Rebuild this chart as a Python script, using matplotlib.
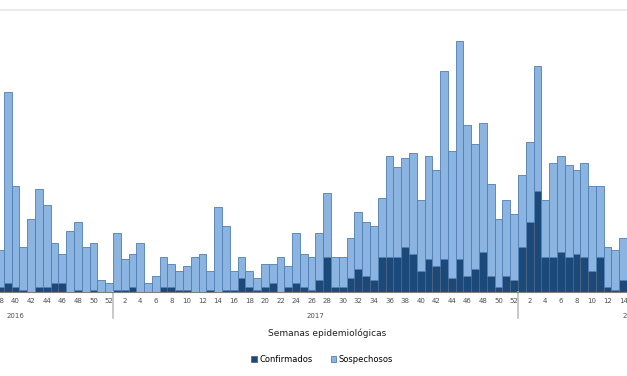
import numpy as np
import matplotlib
matplotlib.use("Agg")
import matplotlib.pyplot as plt

# epidemiological weeks shown (2016 w38 .. 2018 w14)
weeks_2016 = list(range(38, 53))
weeks_2017 = list(range(1, 53))
weeks_2018 = list(range(1, 15))

total_2016 = [18, 85, 45, 19, 31, 44, 37, 21, 16, 26, 30, 19, 21, 5, 4]
conf_2016 = [2, 4, 2, 1, 0, 2, 2, 4, 4, 0, 1, 0, 1, 0, 0]

total_2017 = [25, 14, 16, 21, 4, 7, 15, 12, 9, 11, 15, 16, 9, 36, 28, 9, 15, 9, 6, 12,
              12, 15, 11, 25, 16, 15, 25, 42, 15, 15, 23, 34, 30, 28, 40, 58, 53, 57, 59, 39,
              58, 52, 94, 60, 107, 71, 63, 72, 46, 31, 39, 33]
conf_2017 = [1, 1, 2, 0, 0, 0, 2, 2, 1, 1, 0, 0, 1, 0, 1, 1, 6, 2, 1, 2,
             4, 0, 2, 4, 2, 1, 5, 15, 2, 2, 6, 10, 7, 5, 15, 15, 15, 19, 16, 9,
             14, 11, 14, 6, 14, 7, 10, 17, 7, 2, 7, 5]

total_2018 = [50, 64, 96, 39, 55, 58, 54, 52, 55, 45, 45, 19, 18, 23]
conf_2018 = [19, 30, 43, 15, 15, 17, 15, 16, 15, 9, 15, 2, 1, 5]

week_labels = weeks_2016 + weeks_2017 + weeks_2018
confirmados = np.array(conf_2016 + conf_2017 + conf_2018)
sospechosos = np.array(total_2016 + total_2017 + total_2018) - confirmados
x = np.arange(len(week_labels))

dark = "#1b4a7a"
light = "#8cb4e1"

fig = plt.figure(figsize=(6.27, 3.76), dpi=100)
ax = fig.add_axes([0, 0.2234, 1, 0.75])

ax.bar(x, confirmados, width=1.0, color=dark, edgecolor="#4d6580", linewidth=0.6,
       label="Confirmados")
ax.bar(x, sospechosos, bottom=confirmados, width=1.0, color=light, edgecolor="#4f7db5",
       linewidth=0.6, label="Sospechosos")

ax.set_xlim(0.103, 80.49)
ax.set_ylim(0, 120)
ax.set_yticks([])

ticks = [i for i, w in enumerate(week_labels) if w % 2 == 0]
ax.set_xticks(ticks)
ax.set_xticklabels([str(week_labels[i]) for i in ticks], fontsize=5, color="#505050")
ax.tick_params(axis="x", length=0, pad=4)

for s in ["left", "right"]:
    ax.spines[s].set_visible(False)
ax.spines["top"].set_color("#ebebeb")
ax.spines["top"].set_linewidth(1.5)
ax.spines["bottom"].set_color("#808080")
ax.spines["bottom"].set_linewidth(0.8)

# year separators and labels
trans = ax.get_xaxis_transform()
for xs in [14.5, 66.5]:
    ax.plot([xs, xs], [0, -0.093], transform=trans, color="#bfbfbf", lw=1.2, clip_on=False)
for xp, yr in [(2.0, "2016"), (40.5, "2017"), (81.1, "2018")]:
    ax.text(xp, -0.085, yr, transform=trans, ha="center", va="center", fontsize=5,
            color="#505050")

fig.text(327 / 627, 1 - 333 / 376, "Semanas epidemiológicas", ha="center", va="center",
         fontsize=6.5, color="#202020")

fig.legend(loc="center", bbox_to_anchor=(322 / 627, 1 - 359 / 376), ncol=2, frameon=False,
           fontsize=6, handlelength=0.7, handleheight=0.7, handletextpad=0.3,
           columnspacing=2.2)

fig.savefig("out.png", dpi=100)
